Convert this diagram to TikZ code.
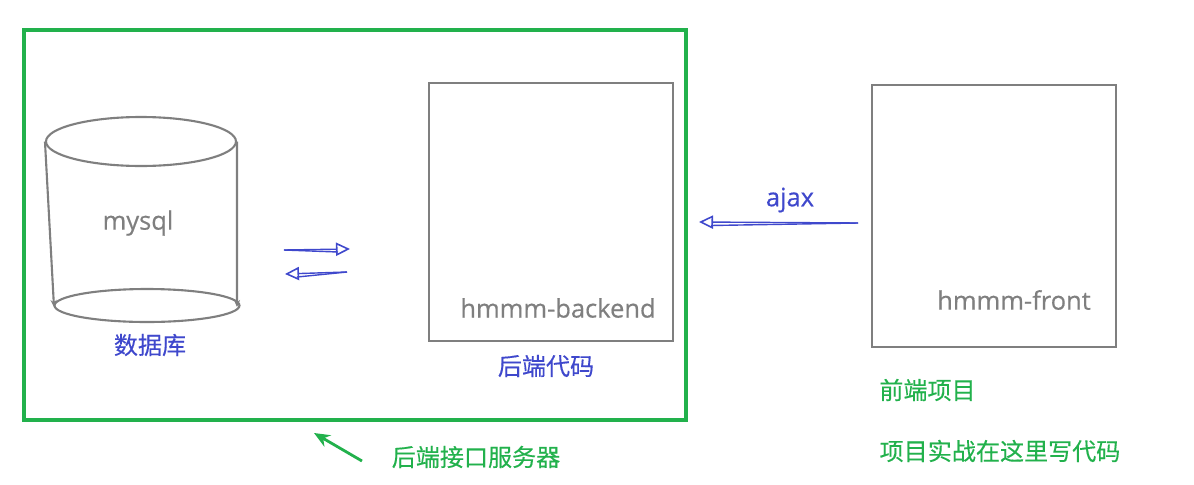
\documentclass[tikz,border=0pt]{standalone}
\usepackage{fontspec}
\setmainfont[FakeBold=0.5]{Open Sans}
\newfontfamily\cjk[FakeBold=0.3]{Noto Sans CJK SC}
\usetikzlibrary{arrows.meta,shapes.geometric}
\definecolor{dgreen}{RGB}{34,177,76}
\definecolor{dblue}{RGB}{63,72,204}
\definecolor{dgray}{RGB}{127,127,127}

\begin{document}
\begin{tikzpicture}[x=0.02cm,y=-0.02cm,
  codebox/.style={draw=dgray,line width=1.1pt,minimum width=4.88cm},
  dbend/.style={draw=dgray,line width=1.2pt,ellipse,inner sep=0pt},
  dbside/.style={dgray,line width=1.2pt,-{Stealth[length=4pt,width=3.5pt]}},
  graytxt/.style={text=dgray,font=\fontsize{14.5pt}{17pt}\selectfont},
  bluetxt/.style={text=dblue,font=\cjk\fontsize{13.7pt}{16pt}\selectfont},
  greentxt/.style={text=dgreen,font=\cjk\fontsize{13.7pt}{16pt}\selectfont},
  callstem/.style={dblue,line width=0.8pt},
  callhead/.style={dblue,line width=0.8pt,-{Triangle[open,length=8pt,width=7.5pt,line width=0.9pt]}}]
  \useasboundingbox (0,0) rectangle (1194,484);
  \node[draw=dgreen,line width=2.2pt,minimum width=13.24cm,minimum height=7.8cm] (server) at (355,225) {};
  \node[codebox,minimum height=5.16cm] (backend) at (551,212) {};
  \node[codebox,minimum height=5.24cm] (front) at (994,216) {};

  \node[dbend,minimum width=3.8cm,minimum height=0.98cm] (dbtop) at (141,141.5) {};
  \node[dbend,minimum width=3.7cm,minimum height=0.66cm] (dbbottom) at (147,305.5) {};
  \coordinate (dbright) at (237,307);
  \coordinate (dbleft) at (54,307);
  \draw[dbside] (dbtop.west) -- (dbleft);
  \draw[dbside] (dbtop.east) -- (dbright);

  \node[graytxt] (mysql) at (138,223) {mysql};
  \node[graytxt] (backtxt) at (558,308) {hmmm-backend};
  \node[graytxt] (fronttxt) at (1014,300) {hmmm-front};
  \node[bluetxt] (dbtxt) at (150,345) {数据库};
  \node[bluetxt] (backcn) at (546,366) {后端代码};
  \node[bluetxt,font=\fontsize{14.5pt}{17pt}\selectfont] (ajax) at (790,200) {ajax};
  \node[greentxt] (frontcn) at (927.5,390) {前端项目};
  \node[greentxt] (practice) at (1000,451) {项目实战在这里写代码};
  \node[greentxt] (servercn) at (476,457) {后端接口服务器};

  \coordinate (r1a) at (284,250);
  \coordinate (r1b) at (350,249);
  \coordinate (r1c) at (338,252);
  \coordinate (r2a) at (347,272);
  \coordinate (r2b) at (285,274);
  \coordinate (r2c) at (297,277);
  \coordinate (r3a) at (858,223);
  \coordinate (r3b) at (699,222);
  \coordinate (r3c) at (711,225.5);
  \foreach \from/\to/\back in {r1a/r1b/r1c,r2a/r2b/r2c,r3a/r3b/r3c}{
    \draw[callhead] (\from) -- (\to);
    \draw[callstem] (\from) -- (\back);
  }

  \coordinate (pa) at (362,461);
  \coordinate (pb) at (314,433);
  \draw[dgreen,line width=1.6pt,-{Stealth[length=9pt,width=7.5pt]}] (pa) -- (pb);
\end{tikzpicture}
\end{document}
